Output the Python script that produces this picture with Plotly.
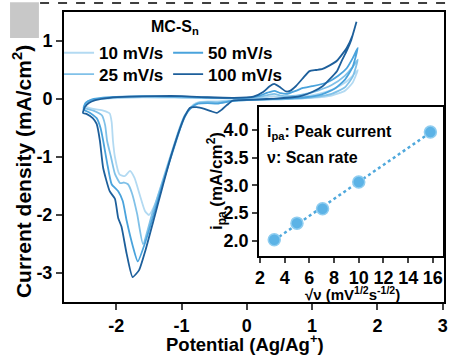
import numpy as np
import plotly.graph_objects as go

# ---------------- data ----------------
scan_labels = ["10 mV/s", "25 mV/s", "50 mV/s", "100 mV/s"]
scan_colors = ["#b3daf2", "#80c1e8", "#4aa3dc", "#1d5f9b"]

pot_10 = [1.70, 1.62, 1.50, 1.30, 1.00, 0.60, 0.20, -0.20, -0.45, -0.60, -0.72, -0.82, -0.92, -1.00, -1.13, -1.28, -1.40, -1.50,
          -1.56, -1.64, -1.72, -1.79, -1.87, -1.95, -2.02, -2.05, -2.07, -2.10, -2.20, -2.35, -2.48,
          -2.44, -2.35, -2.10, -1.60, -1.00, -0.50, 0.00, 0.20, 0.35, 0.42, 0.52, 0.70, 0.90, 1.10, 1.30, 1.50, 1.62, 1.70]
cur_10 = [0.50, 0.28, 0.14, 0.06, 0.02, 0.00, -0.01, -0.02, -0.04, -0.04, -0.05, -0.10, -0.25, -0.45, -0.90, -1.40, -1.80, -2.00,
          -1.93, -1.65, -1.36, -1.24, -1.33, -1.30, -1.00, -0.72, -0.40, -0.25, -0.20, -0.17, -0.12,
          -0.05, -0.01, 0.01, 0.03, 0.02, 0.01, 0.01, 0.02, 0.04, 0.05, 0.03, 0.03, 0.05, 0.09, 0.16, 0.28, 0.40, 0.50]

pot_25 = [1.70, 1.62, 1.50, 1.30, 1.00, 0.60, 0.20, -0.20, -0.45, -0.60, -0.75, -0.85, -0.95, -1.03, -1.16, -1.30, -1.45, -1.59,
          -1.68, -1.76, -1.82, -1.88, -1.94, -2.02, -2.08, -2.14, -2.17, -2.22, -2.35, -2.50,
          -2.46, -2.35, -2.10, -1.60, -1.00, -0.50, 0.00, 0.20, 0.33, 0.42, 0.52, 0.65, 0.90, 1.10, 1.30, 1.50, 1.62, 1.70]
cur_25 = [0.68, 0.38, 0.20, 0.09, 0.03, 0.00, -0.01, -0.03, -0.06, -0.05, -0.07, -0.14, -0.28, -0.50, -0.95, -1.45, -1.98, -2.50,
          -1.98, -1.62, -1.47, -1.44, -1.45, -1.29, -1.00, -0.72, -0.45, -0.28, -0.20, -0.15,
          -0.06, -0.01, 0.02, 0.04, 0.03, 0.02, 0.02, 0.04, 0.07, 0.09, 0.06, 0.05, 0.09, 0.15, 0.24, 0.40, 0.55, 0.68]

pot_50 = [1.70, 1.62, 1.50, 1.35, 1.15, 0.90, 0.60, 0.20, -0.20, -0.45, -0.60, -0.75, -0.85, -0.95, -1.02, -1.15, -1.30, -1.43, -1.55, -1.67,
          -1.75, -1.84, -1.90, -1.97, -2.07, -2.14, -2.20, -2.24, -2.30, -2.40, -2.50,
          -2.47, -2.38, -2.10, -1.60, -1.00, -0.50, 0.00, 0.20, 0.32, 0.42, 0.52, 0.62, 0.75, 0.86, 1.00, 1.22, 1.40, 1.53, 1.62, 1.70]
cur_50 = [0.88, 0.55, 0.33, 0.18, 0.08, 0.03, 0.01, -0.01, -0.03, -0.08, -0.07, -0.08, -0.15, -0.30, -0.50, -0.95, -1.50, -2.00, -2.45, -2.80,
          -2.52, -2.10, -1.76, -1.59, -1.47, -1.10, -0.72, -0.50, -0.33, -0.24, -0.18,
          -0.07, -0.01, 0.03, 0.05, 0.04, 0.02, 0.02, 0.06, 0.11, 0.14, 0.10, 0.09, 0.14, 0.19, 0.22, 0.28, 0.40, 0.53, 0.70, 0.88]

pot_100 = [1.68, 1.60, 1.53, 1.45, 1.38, 1.25, 1.16, 1.00, 0.85, 0.70, 0.50, 0.30, 0.10, -0.10, -0.22, -0.30, -0.38, -0.46, -0.55, -0.65,
           -0.77, -0.87, -0.95, -1.02, -1.15, -1.30, -1.43, -1.55, -1.65, -1.75,
           -1.84, -1.92, -1.97, -2.02, -2.10, -2.20, -2.25, -2.30, -2.36, -2.45, -2.51,
           -2.48, -2.42, -2.32, -2.10, -1.80, -1.40, -1.00, -0.60, -0.20, 0.10, 0.25, 0.35, 0.42, 0.50, 0.60, 0.66,
           0.75, 0.86, 0.96, 1.06, 1.16, 1.27, 1.38, 1.53, 1.62, 1.68]
cur_100 = [1.33, 1.02, 0.83, 0.65, 0.48, 0.32, 0.22, 0.12, 0.06, 0.03, 0.01, 0.00, -0.01, -0.02, -0.03, -0.10, -0.18, -0.24, -0.21, -0.17,
           -0.14, -0.15, -0.30, -0.50, -0.95, -1.55, -2.10, -2.60, -2.95, -3.07,
           -2.67, -2.20, -2.05, -1.72, -1.59, -1.19, -0.72, -0.43, -0.33, -0.26, -0.24,
           -0.14, -0.07, -0.02, 0.02, 0.04, 0.05, 0.05, 0.03, 0.02, 0.04, 0.12, 0.22, 0.26, 0.21, 0.13, 0.14,
           0.22, 0.36, 0.48, 0.50, 0.52, 0.58, 0.66, 0.88, 1.10, 1.33]

sqrt_scan_rate = [3.16, 5.0, 7.07, 10.0, 15.8]
peak_current = [2.02, 2.32, 2.58, 3.06, 3.96]

main_xticks = [-2, -1, 0, 1, 2, 3]
main_xticktext = ["-2", "-1", "0", "1", "2", "3"]
main_yticks = [-3, -2, -1, 0, 1]
main_yticktext = ["-3", "-2", "-1", "0", "1"]
inset_xticks = [2, 4, 6, 8, 10, 12, 14, 16]
inset_yticks = [2.0, 2.5, 3.0, 3.5, 4.0]

# ---------------- figure ----------------
FONT = "Liberation Sans, Arial, sans-serif"
fig = go.Figure()

pots = [pot_10, pot_25, pot_50, pot_100]
curs = [cur_10, cur_25, cur_50, cur_100]
legend_ids = ["legend", "legend3", "legend2", "legend4"]
for lab, col, px_, cy, lg in zip(scan_labels, scan_colors, pots, curs, legend_ids):
    fig.add_trace(go.Scatter(x=px_, y=cy, mode="lines", name=lab,
                             line=dict(color=col, width=1.8, shape="spline", smoothing=0.5),
                             legend=lg, xaxis="x", yaxis="y"))

# inset fit line
coef = np.polyfit(sqrt_scan_rate, peak_current, 1)
fit_x = [min(sqrt_scan_rate), max(sqrt_scan_rate)]
fit_y = list(np.polyval(coef, fit_x))
fig.add_trace(go.Scatter(x=fit_x, y=fit_y, mode="lines", showlegend=False,
                         line=dict(color="#4fa8dc", width=2.5, dash="dot"),
                         xaxis="x2", yaxis="y2"))
fig.add_trace(go.Scatter(x=sqrt_scan_rate, y=peak_current, mode="markers", showlegend=False,
                         marker=dict(size=12, color="#5cb3e6", line=dict(color="#8fcdf0", width=1.5)),
                         xaxis="x2", yaxis="y2"))

tickfont = dict(family=FONT, size=18, color="black", weight="bold")
leg_font = dict(family=FONT, size=17, color="black", weight="bold")

def leg(x, y):
    return dict(x=x, y=y, xanchor="left", yanchor="middle", bgcolor="rgba(0,0,0,0)",
                font=leg_font, itemwidth=30, tracegroupgap=0, borderwidth=0)

fig.update_layout(
    width=452, height=360,
    margin=dict(l=64, r=8, t=12, b=58, autoexpand=False),
    paper_bgcolor="white", plot_bgcolor="white",
    showlegend=True,
    legend=leg(-0.013, 0.858),
    legend2=leg(0.274, 0.858),
    legend3=leg(-0.013, 0.784),
    legend4=leg(0.274, 0.784),
    xaxis=dict(range=[-2.8, 3.02], tickvals=main_xticks, ticktext=main_xticktext, ticks="outside", ticklen=6,
               tickwidth=2, showline=True, linewidth=2, linecolor="black", mirror=True, showgrid=False,
               zeroline=False, tickfont=tickfont, domain=[0, 1], automargin=False),
    yaxis=dict(range=[-3.5, 1.5], tickvals=main_yticks, ticktext=main_yticktext, ticks="outside", ticklen=6,
               tickwidth=2, showline=True, linewidth=2, linecolor="black", mirror=True, showgrid=False,
               zeroline=False, tickfont=tickfont, domain=[0, 1], automargin=False),
    xaxis2=dict(range=[1.92, 16.81], tickvals=inset_xticks, ticks="outside", ticklen=5, tickwidth=1.5,
                showline=True, linewidth=1.5, linecolor="black", mirror=True, showgrid=False,
                zeroline=False, tickfont=tickfont, domain=[0.513, 0.997], anchor="y2", automargin=False),
    yaxis2=dict(range=[1.73, 4.41], tickvals=inset_yticks, tickformat=".1f", ticks="outside", ticklen=5,
                tickwidth=1.5, showline=True, linewidth=1.5, linecolor="black", mirror=True, showgrid=False,
                zeroline=False, tickfont=tickfont, domain=[0.159, 0.672], anchor="x2", automargin=False),
)

# inset white background
fig.add_shape(type="rect", xref="x2 domain", yref="y2 domain", x0=0, x1=1, y0=0, y1=1,
              fillcolor="white", line=dict(width=0), layer="below")

# decorative elements from the source image
fig.add_shape(type="rect", xref="paper", yref="paper", x0=-0.142, x1=-0.066, y0=0.910, y1=1.034,
              fillcolor="#c8c8c8", line=dict(width=0))
fig.add_shape(type="line", xref="paper", yref="paper", x0=-0.063, x1=1.03, y0=1.031, y1=1.031,
              line=dict(color="black", width=1.5, dash="dash"))

title_font = dict(family=FONT, size=18.5, color="black", weight="bold")
ann = [
    dict(text="Current density (mA/cm<sup>2</sup>)", x=-0.1105, y=0.448, textangle=-90,
         font=dict(family=FONT, size=21, color="black", weight="bold")),
    dict(text="Potential (Ag/Ag<sup>+</sup>)", x=0.476, y=-0.141, font=title_font),
    dict(text="MC-S<sub>n</sub>", x=0.292, y=0.945, font=dict(family=FONT, size=16, color="black", weight="bold")),
    dict(text="√ν (mV<sup>1/2</sup>s<sup>-1/2</sup>)", x=0.758, y=0.030,
         font=dict(family=FONT, size=15, color="black", weight="bold")),
    dict(text="i<sub>pa</sub> (mA/cm<sup>2</sup>)", x=0.40, y=0.417, textangle=-90,
         font=dict(family=FONT, size=17, color="black", weight="bold")),
]
for a in ann:
    fig.add_annotation(xref="paper", yref="paper", showarrow=False, xanchor="center", yanchor="middle", **a)

fig.add_annotation(text="i<sub>pa</sub>: Peak current", x=0.529, y=0.586, xref="paper", yref="paper",
                   showarrow=False, xanchor="left", yanchor="middle",
                   font=dict(family=FONT, size=16, color="black", weight="bold"))
fig.add_annotation(text="ν: Scan rate", x=0.529, y=0.50, xref="paper", yref="paper",
                   showarrow=False, xanchor="left", yanchor="middle",
                   font=dict(family=FONT, size=16, color="black", weight="bold"))

# remove the browser's default 8px page margin so the figure fills the window
fig.write_html("out.html", config={"displayModeBar": False},
               post_script="document.body.style.margin='0';")
